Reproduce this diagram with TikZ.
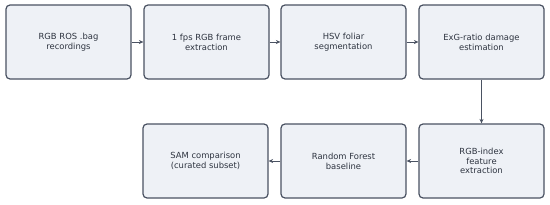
\documentclass[tikz,border=0pt]{standalone}
\usepackage{fontspec}
\setmainfont{DejaVu Sans}
\usetikzlibrary{arrows.meta}
\definecolor{boxfill}{HTML}{EEF1F6}
\definecolor{boxdraw}{HTML}{4A5262}
\definecolor{txt}{HTML}{2E3440}
\begin{document}
\begin{tikzpicture}[x=1pt,y=-1pt,
  stagebox/.style={draw=boxdraw, fill=boxfill, line width=1.2pt, rounded corners=4pt,
    minimum width=125pt, minimum height=74pt, inner sep=0pt, align=center,
    text=txt, font=\fontsize{8.4}{9.8}\selectfont},
  flow/.style={draw=boxdraw, line width=0.9pt, -{Stealth[length=4.5pt,width=4pt]}}]
\useasboundingbox (0,0) rectangle (550,204);
\node[stagebox] (a) at (68.5,42) {RGB ROS .bag\\recordings};
\node[stagebox] (b) at (206.5,42) {1 fps RGB frame\\extraction};
\node[stagebox] (c) at (343.5,42) {HSV foliar\\segmentation};
\node[stagebox] (d) at (481.5,42) {ExG-ratio damage\\estimation};
\node[stagebox] (e) at (481.5,161) {RGB-index\\feature\\extraction};
\node[stagebox] (f) at (343.5,161) {Random Forest\\baseline};
\node[stagebox] (g) at (205.5,161) {SAM comparison\\(curated subset)};
\draw[flow] (a) -- (b);
\draw[flow] (b) -- (c);
\draw[flow] (c) -- (d);
\draw[flow] (d) -- (e);
\draw[flow] (e) -- (f);
\draw[flow] (f) -- (g);
\end{tikzpicture}
\end{document}
